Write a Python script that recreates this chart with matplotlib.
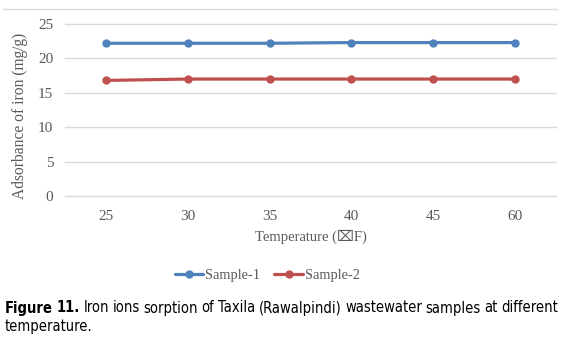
import matplotlib
matplotlib.use("Agg")
import matplotlib.pyplot as plt
from matplotlib.lines import Line2D

temperatures = ["25", "30", "35", "40", "45", "60"]
sample_1 = [22.2, 22.2, 22.2, 22.3, 22.3, 22.3]
sample_2 = [16.8, 17.0, 17.0, 17.0, 17.0, 17.0]
y_ticks = [0, 5, 10, 15, 20, 25]

BLUE = "#4F81BD"
RED = "#C0504D"
GRID = "#D9D9D9"
TEXT = "#595959"
SERIF = ["Liberation Serif", "DejaVu Serif", "DejaVu Sans"]
CAPTION = dict(family="DejaVu Sans", stretch="condensed", fontsize=10.5, color="black")

W, H = 565, 346
fig = plt.figure(figsize=(W / 100, H / 100), dpi=100)

# plot area in pixel coordinates
left, right, top, bottom = 65, 556, 24, 196
ax = fig.add_axes([left / W, 1 - bottom / H, (right - left) / W, (bottom - top) / H])

x = range(len(temperatures))
ax.plot(x, sample_1, color=BLUE, lw=2.3, marker="o", ms=5, label="Sample-1", solid_capstyle="round")
ax.plot(x, sample_2, color=RED, lw=2.3, marker="o", ms=5, label="Sample-2", solid_capstyle="round")

ax.set_xlim(-0.5, len(temperatures) - 0.5)
ax.set_ylim(0, 25)
ax.set_yticks(y_ticks)
ax.set_xticks(list(x))
ax.set_xticklabels(temperatures)
ax.yaxis.grid(True, color=GRID, lw=1)
for gl in ax.get_ygridlines():
    gl.set_clip_on(False)
ax.set_axisbelow(True)
for s in ax.spines.values():
    s.set_visible(False)
ax.tick_params(length=0, labelsize=11, labelcolor=TEXT)
ax.tick_params(axis="y", pad=8.5)
ax.tick_params(axis="x", pad=10)
for lbl in ax.get_xticklabels() + ax.get_yticklabels():
    lbl.set_family(SERIF)

fig.text(20 / W, 1 - 116 / H, "Adsorbance of iron (mg/g)", family=SERIF, fontsize=11.2,
         color=TEXT, ha="center", va="center", rotation=90)
fig.text(311 / W, 1 - 237 / H, "Temperature (\u2327F)", family=SERIF, fontsize=10.5,
         color=TEXT, ha="center", va="center")

# chart border top edge
fig.add_artist(Line2D([3 / W, 557 / W], [1 - 9 / H, 1 - 9 / H], color=GRID, lw=1))

leg = fig.legend(handles=ax.get_lines(), loc="center", bbox_to_anchor=(267 / W, 1 - 275 / H),
                 ncol=2, frameon=False, prop={"family": SERIF, "size": 10.4},
                 handlelength=2.0, handletextpad=0.1, columnspacing=1.0)
for t in leg.get_texts():
    t.set_color(TEXT)

# justified caption, first line
fig.canvas.draw()
renderer = fig.canvas.get_renderer()
x0, x1 = 5, 558
y1 = 1 - 308 / H
words = [("Figure", "bold"), ("11.", "bold"), ("Iron", "normal"), ("ions", "normal"),
         ("sorption", "normal"), ("of", "normal"), ("Taxila", "normal"), ("(Rawalpindi)", "normal"),
         ("wastewater", "normal"), ("samples", "normal"), ("at", "normal"), ("different", "normal")]
texts = []
widths = []
for w, weight in words:
    t = fig.text(0, y1, w, weight=weight, ha="left", va="center", **CAPTION)
    bb = t.get_window_extent(renderer)
    texts.append(t)
    widths.append(bb.width)
gap = ((x1 - x0) - sum(widths)) / (len(words) - 1)
cx = x0
for t, wd in zip(texts, widths):
    t.set_x(cx / W)
    cx += wd + gap

fig.text(x0 / W, 1 - 327 / H, "temperature.", ha="left", va="center", **CAPTION)

fig.savefig("out.png", dpi=100)
